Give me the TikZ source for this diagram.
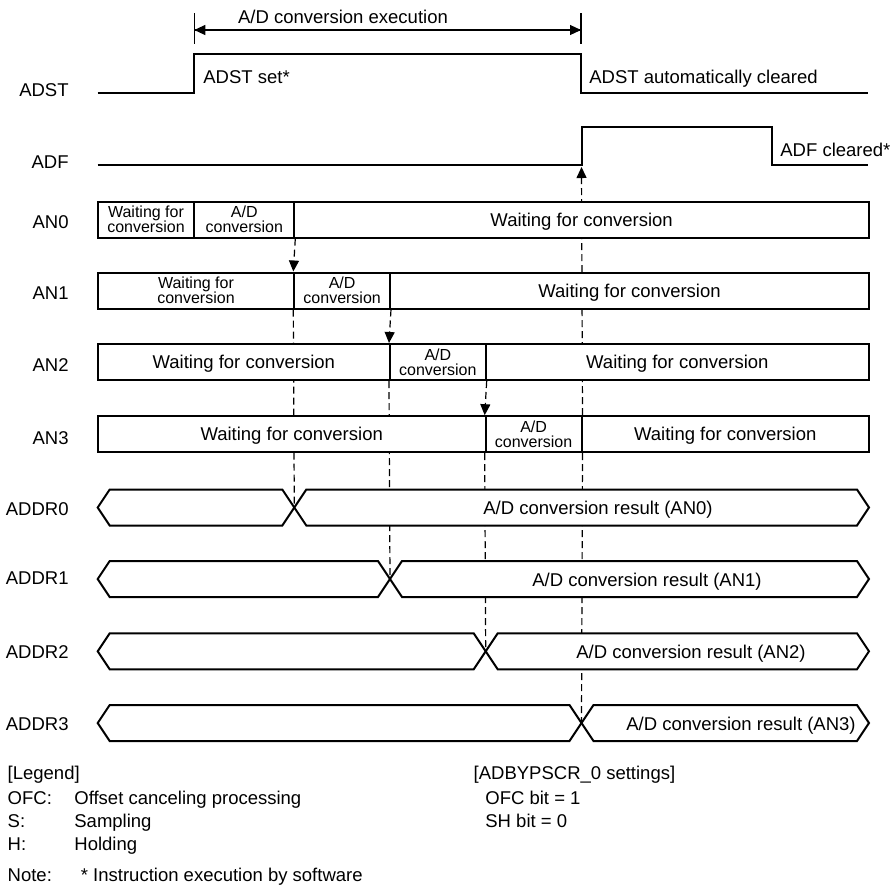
\documentclass[tikz,border=0pt]{standalone}
\usepackage{fontspec}
\setmainfont{Liberation Sans}
\usetikzlibrary{arrows.meta, backgrounds}
\newcommand{\bigtxt}{\fontsize{9.25}{11}\selectfont}
\newcommand{\smalltxt}{\fontsize{8}{7.5}\selectfont}
\tikzset{sig/.style = {line width = 1pt}}
\tikzset{box/.style = {shape = rectangle, draw, fill = white, line width = 1pt, minimum height = 18pt, inner sep = 0pt}}
\tikzset{cell/.style = {box, font = \bigtxt, text height = 6.6pt, text depth = 0pt}}
\tikzset{smallcell/.style = {box, align = center, font = \smalltxt}}
\tikzset{lbl/.style = {font = \bigtxt, inner sep = 0pt}}
\tikzset{bus/.style = {draw, fill = white, line width = 1pt}}
\tikzset{dashline/.style = {line width = 0.6pt, dash pattern = on 3.5pt off 2pt}}
\tikzset{dimline/.style = {line width = 0.6pt}}
\tikzset{headarrow/.style = {-{Triangle[length = 5.5pt, width = 5pt]}}}

\begin{document}
\begin{tikzpicture}[x = 0.5pt, y = -0.5pt]
				\useasboundingbox (0,0) rectangle (896,891);

				% signal names
				\node[lbl, anchor = base east] (nadst) at (69,96.7) {ADST};
				\node[lbl, anchor = base east] (nadf) at (69,168.3) {ADF};
				\node[lbl, anchor = base east] (nan0) at (69,228.3) {AN0};
				\node[lbl, anchor = base east] (nan1) at (69,299.5) {AN1};
				\node[lbl, anchor = base east] (nan2) at (69,371.2) {AN2};
				\node[lbl, anchor = base east] (nan3) at (69,444) {AN3};
				\node[lbl, anchor = base east] (naddr0) at (69,515) {ADDR0};
				\node[lbl, anchor = base east] (naddr1) at (69,584.5) {ADDR1};
				\node[lbl, anchor = base east] (naddr2) at (69,658.3) {ADDR2};
				\node[lbl, anchor = base east] (naddr3) at (69,730) {ADDR3};

				% conversion time
				\coordinate (ex1) at (194.3,30);
				\coordinate (ex2) at (581,30);
				\draw[dimline] (194.3,13.3) -- (194.3,44.3);
				\draw[dimline] (581,13.3) -- (581,44.3);
				\draw[dimline, headarrow] (ex1) -- (ex2);
				\draw[dimline, headarrow] (ex2) -- (ex1);
				\node[lbl, anchor = base] (exec) at (343,23.3) {A/D conversion execution};

				% ADST and ADF
				\draw[sig] (97.7,93.3) -- (194.3,93.3) -- (194.3,54) -- (581,54) -- (581,93.3) -- (867.7,93.3);
				\coordinate (adfrise) at (581.5,165);
				\draw[sig] (97.7,165) -- (adfrise) -- (581.5,126.7) -- (772,126.7) -- (772,165) -- (867.7,165);
				\node[lbl, anchor = base west] (adstset) at (203,83.3) {ADST set*};
				\node[lbl, anchor = base west] (adstclr) at (589,83) {ADST automatically cleared};
				\node[lbl, anchor = base west] (adfclr) at (780,156) {ADF cleared*};

				% AN0 to AN3
				\node[smallcell, minimum width = 48.3pt] (an0a) at (146,219.7) {Waiting for\\conversion};
				\node[smallcell, minimum width = 50pt] (an0b) at (244.3,219.7) {A/D\\conversion};
				\node[cell, minimum width = 287.35pt] (an0c) at (581.65,219.7) {Waiting for conversion};

				\node[smallcell, minimum width = 98.3pt] (an1a) at (196,290.5) {Waiting for\\conversion};
				\node[smallcell, minimum width = 47.85pt] (an1b) at (342.15,290.5) {A/D\\conversion};
				\node[cell, minimum width = 239.5pt] (an1c) at (629.5,290.5) {Waiting for conversion};

				\node[cell, minimum width = 146.15pt] (an2a) at (243.85,362) {Waiting for conversion};
				\node[smallcell, minimum width = 47.85pt] (an2b) at (437.85,362) {A/D\\conversion};
				\node[cell, minimum width = 191.65pt] (an2c) at (677.35,362) {Waiting for conversion};

				\node[cell, minimum width = 194pt] (an3a) at (291.7,434.2) {Waiting for conversion};
				\node[smallcell, minimum width = 47.9pt] (an3b) at (533.6,434.2) {A/D\\conversion};
				\node[cell, minimum width = 143.75pt] (an3c) at (725.25,434.2) {Waiting for conversion};

				\draw[dashline, headarrow] (an0b.south east) -- (an1b.north west);
				\draw[dashline, headarrow] (an1b.south east) -- (an2b.north west);
				\draw[dashline, headarrow] (an2b.south east) -- (an3b.north west);

				% ADDR0 to ADDR3
				\coordinate (x0) at (294.3,507.5);
				\draw[bus] (97.7,507.5) -- (109.7,489.5) -- (282.3,489.5) -- (x0) -- (282.3,525.5) -- (109.7,525.5) -- cycle;
				\draw[bus] (x0) -- (306.3,489.5) -- (857,489.5) -- (869,507.5) -- (857,525.5) -- (306.3,525.5) -- cycle;
				\node[lbl, anchor = base] (res0) at (598,514.5) {A/D conversion result (AN0)};

				\coordinate (x1) at (390,579);
				\draw[bus] (97.7,579) -- (109.7,561) -- (378,561) -- (x1) -- (378,597) -- (109.7,597) -- cycle;
				\draw[bus] (x1) -- (402,561) -- (857,561) -- (869,579) -- (857,597) -- (402,597) -- cycle;
				\node[lbl, anchor = base] (res1) at (647,586) {A/D conversion result (AN1)};

				\coordinate (x2) at (485.7,651.3);
				\draw[bus] (97.7,651.3) -- (109.7,633.3) -- (473.7,633.3) -- (x2) -- (473.7,669.3) -- (109.7,669.3) -- cycle;
				\draw[bus] (x2) -- (497.7,633.3) -- (857,633.3) -- (869,651.3) -- (857,669.3) -- (497.7,669.3) -- cycle;
				\node[lbl, anchor = base] (res2) at (691,658.3) {A/D conversion result (AN2)};

				\coordinate (x3) at (581.5,723);
				\draw[bus] (97.7,723) -- (109.7,705) -- (569.5,705) -- (x3) -- (569.5,741) -- (109.7,741) -- cycle;
				\draw[bus] (x3) -- (593.5,705) -- (857,705) -- (869,723) -- (857,741) -- (593.5,741) -- cycle;
				\node[lbl, anchor = base] (res3) at (741,730) {A/D conversion result (AN3)};

				% dashed lines behind the rows
				\begin{scope}[on background layer]
					\draw[dashline] (an1b.south west) -- (x0);
					\draw[dashline] (an2b.south west) -- (x1);
					\draw[dashline] (an3b.south west) -- (x2);
					\draw[dashline] (an3b.south east) -- (x3);
					\draw[dashline, headarrow, shorten > = 1pt] (an3b.north east) -- (adfrise);
				\end{scope}

				% legend
				\node[lbl, anchor = base west] (lgd) at (7.3,779.5) {[Legend]};
				\node[lbl, anchor = base west] (lgofc) at (7.3,804.5) {OFC:};
				\node[lbl, anchor = base west] (lgofctxt) at (74,804.5) {Offset canceling processing};
				\node[lbl, anchor = base west] (lgs) at (7.3,827.5) {S:};
				\node[lbl, anchor = base west] (lgstxt) at (74,827.5) {Sampling};
				\node[lbl, anchor = base west] (lgh) at (7.3,850.5) {H:};
				\node[lbl, anchor = base west] (lghtxt) at (74,850.5) {Holding};
				\node[lbl, anchor = base west] (note) at (7.3,881.5) {Note:\hspace{14.5pt}* Instruction execution by software};
				\node[lbl, anchor = base west] (sett) at (473.3,779.5) {[ADBYPSCR\_0 settings]};
				\node[lbl, anchor = base west] (setofc) at (485,804.5) {OFC bit = 1};
				\node[lbl, anchor = base west] (setsh) at (485,827.5) {SH bit = 0};
			\end{tikzpicture}
\end{document}
